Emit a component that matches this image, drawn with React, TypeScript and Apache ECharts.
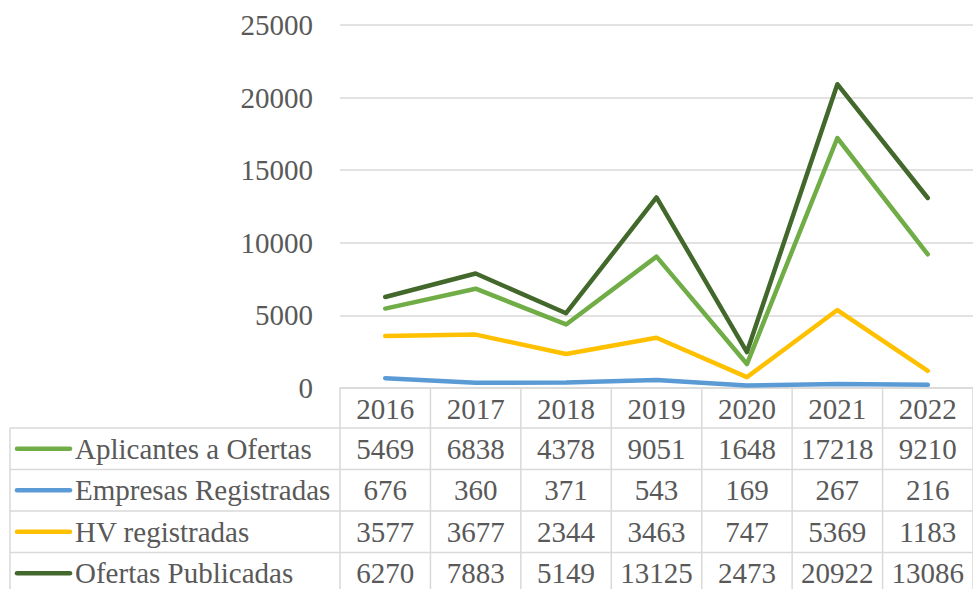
import React, { useEffect, useRef } from "react";
import * as echarts from "echarts";

const years = ["2016", "2017", "2018", "2019", "2020", "2021", "2022"];
const aplicantes = [5469, 6838, 4378, 9051, 1648, 17218, 9210];
const empresas = [676, 360, 371, 543, 169, 267, 216];
const hvRegistradas = [3577, 3677, 2344, 3463, 747, 5369, 1183];
const ofertas = [6270, 7883, 5149, 13125, 2473, 20922, 13086];
const seriesNames = ["Aplicantes a Ofertas", "Empresas Registradas", "HV registradas", "Ofertas Publicadas"];
const seriesData = [aplicantes, empresas, hvRegistradas, ofertas];
const seriesColors = ["#70AD47", "#5B9BD5", "#FFC000", "#43682B"];
const yTicks = { min: 0, max: 25000, interval: 5000 };

const FONT = "Liberation Serif";
const TXT = "#595959";
const GRID = "#d9d9d9";

export default function App() {
  const ref = useRef<HTMLDivElement>(null);
  useEffect(() => {
    if (!ref.current) return;
    const chart = echarts.init(ref.current, undefined, { renderer: "svg" });
    const axisY = 388;
    const rowTop = 428;
    const rowH = 41.5;
    const fs = 29;
    chart.setOption({
      animation: false,
      textStyle: { fontFamily: FONT },
      grid: { left: 340, right: -4, top: 25, bottom: 589 - axisY },
      xAxis: {
        type: "category",
        data: years,
        boundaryGap: true,
        axisLine: { show: true, lineStyle: { color: GRID, width: 1.5 } },
        axisTick: { show: false },
        axisLabel: { color: TXT, fontFamily: FONT, fontSize: fs, margin: 6 },
      },
      yAxis: {
        type: "value",
        min: yTicks.min,
        max: yTicks.max,
        interval: yTicks.interval,
        axisLine: { show: false },
        axisTick: { show: false },
        axisLabel: {
          color: TXT,
          fontFamily: FONT,
          fontSize: fs,
          margin: 27,
          formatter: (v: number) => String(v),
        },
        splitLine: { lineStyle: { color: GRID, width: 1.5 } },
      },
      series: seriesNames.map((n, i) => ({
        name: n,
        type: "line",
        data: seriesData[i],
        symbol: "none",
        lineStyle: { color: seriesColors[i], width: 4.5, cap: "round", join: "round" },
        itemStyle: { color: seriesColors[i] },
        z: 2 + i,
      })),
    });

    const centers = years.map((y) => chart.convertToPixel({ xAxisIndex: 0 }, y) as number);
    const band = centers.length > 1 ? centers[1] - centers[0] : 91;
    const leftEdge = centers[0] - band / 2;
    const rightEdge = centers[centers.length - 1] + band / 2;
    const bottom = rowTop + rowH * seriesNames.length;
    const graphics: any[] = [];
    const ls = { stroke: GRID, lineWidth: 1.5 };
    for (let k = 0; k <= years.length; k++) {
      const x = leftEdge + k * band;
      graphics.push({ type: "line", shape: { x1: x, y1: axisY, x2: x, y2: bottom }, style: ls, silent: true });
    }
    graphics.push({ type: "line", shape: { x1: 10, y1: rowTop, x2: 10, y2: bottom }, style: ls, silent: true });
    for (let r = 0; r <= seriesNames.length; r++) {
      const y = rowTop + r * rowH;
      graphics.push({ type: "line", shape: { x1: 10, y1: y, x2: rightEdge, y2: y }, style: ls, silent: true });
    }
    const ts = { fill: TXT, fontFamily: FONT, fontSize: fs, verticalAlign: "middle" };
    seriesNames.forEach((n, r) => {
      const cy = rowTop + r * rowH + rowH / 2;
      graphics.push({
        type: "line",
        shape: { x1: 17, y1: cy, x2: 70, y2: cy },
        style: { stroke: seriesColors[r], lineWidth: 4.5, lineCap: "round" },
        silent: true,
      });
      graphics.push({
        type: "text",
        x: 75,
        y: cy,
        style: { ...ts, text: n, align: "left" },
        silent: true,
      });
      seriesData[r].forEach((v, c) => {
        graphics.push({
          type: "text",
          x: centers[c],
          y: cy,
          style: { ...ts, text: String(v), align: "center" },
          silent: true,
        });
      });
    });
    chart.setOption({ graphic: graphics });
    return () => chart.dispose();
  }, []);
  return (
    <div
      ref={ref}
      style={{ position: "fixed", left: 0, top: 0, width: 973, height: 589, background: "#fff" }}
    />
  );
}
